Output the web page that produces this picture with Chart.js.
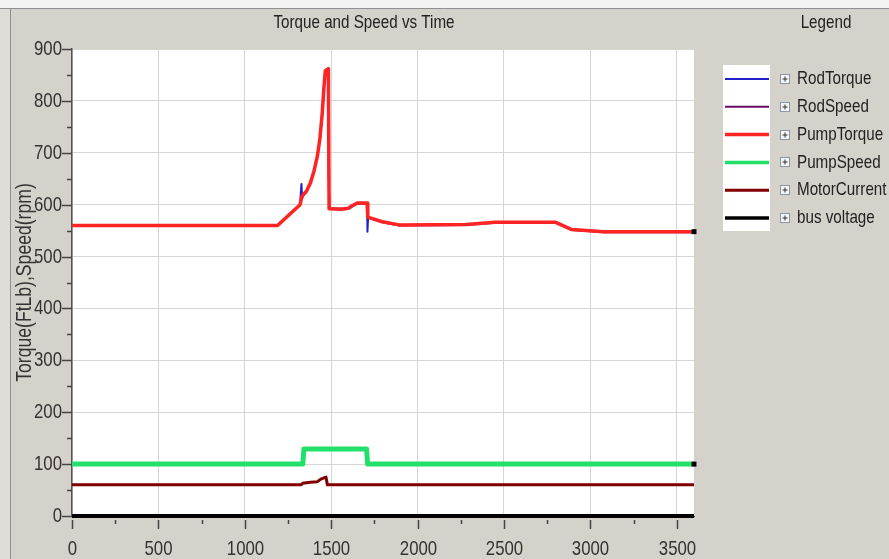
<!DOCTYPE html>
<html><head><meta charset="utf-8">
<script src="https://cdn.jsdelivr.net/npm/chart.js@4.4.1/dist/chart.umd.min.js"></script>
<style>html,body{margin:0;padding:0;background:#d5d2cb;overflow:hidden}#wrap{width:889px;height:559px;position:relative}</style>
</head><body><div id="wrap"><canvas id="c"></canvas></div>
<script>
const chartTitle = 'Torque and Speed vs Time';
const legendTitle = 'Legend';
const yAxisTitle = 'Torque(FtLb),Speed(rpm)';
const seriesNames = ['RodTorque', 'RodSpeed', 'PumpTorque', 'PumpSpeed', 'MotorCurrent', 'bus voltage'];
const xTickValues = [0, 500, 1000, 1500, 2000, 2500, 3000, 3500];
const yTickValues = [0, 100, 200, 300, 400, 500, 600, 700, 800, 900];

const pumpTorqueTime = [0, 1190, 1320, 1330, 1340, 1357, 1380, 1400, 1420, 1435, 1448, 1458, 1466, 1484, 1488, 1560, 1600, 1620, 1651, 1708, 1712, 1796, 1894, 2280, 2450, 2800, 2893, 3077, 3600];
const pumpTorque     = [560, 560, 600, 615, 620, 626, 642, 664, 693, 728, 775, 825, 858, 862, 592, 591, 593, 598, 603, 603, 576, 567, 561, 562, 566, 566, 552, 548, 548];

const rodTorqueTime = [0, 1190, 1320, 1328, 1332, 1340, 1357, 1380, 1400, 1420, 1435, 1448, 1458, 1466, 1484, 1486, 1490, 1560, 1600, 1620, 1651, 1708, 1710, 1714, 1796, 1894, 2280, 2450, 2800, 2893, 3077, 3600];
const rodTorque     = [560, 560, 600, 640, 612, 620, 626, 642, 664, 693, 728, 775, 825, 858, 862, 655, 592, 591, 593, 598, 603, 603, 548, 576, 567, 561, 562, 566, 566, 552, 548, 548];

const rodSpeedTime = [0, 1190, 1320, 1330, 1357, 1380, 1400, 1420, 1435, 1448, 1458, 1466, 1484, 1488, 1600, 1651, 1708, 1712, 1796, 1894, 2280, 2450, 2800, 2893, 3077, 3600];
const rodSpeed     = [561, 561, 601, 614, 625, 641, 663, 692, 727, 774, 824, 857, 861, 593, 592, 602, 602, 575, 566, 560, 561, 565, 565, 551, 547, 547];

const pumpSpeedTime = [0, 1336, 1342, 1705, 1711, 3600];
const pumpSpeed     = [100, 100, 129, 129, 100, 100];

const motorCurrentTime = [0, 1325, 1335, 1380, 1420, 1440, 1470, 1478, 3600];
const motorCurrent     = [60, 60, 63, 65, 66, 71, 75, 60, 60];

const busVoltageTime = [0, 3600];
const busVoltage     = [0, 0];

const colors = ['#2222c8', '#6a0a6a', '#ff2424', '#22e06a', '#800000', '#000000'];
const widths = [2, 2, 3.5, 5, 3, 4];
const FONT = "'Liberation Sans',Arial,sans-serif";
const SQ = 0.8;

function pts(t, v) { return t.map((x, i) => ({ x: x, y: v[i] })); }
const seriesData = [
  pts(rodTorqueTime, rodTorque),
  pts(rodSpeedTime, rodSpeed),
  pts(pumpTorqueTime, pumpTorque),
  pts(pumpSpeedTime, pumpSpeed),
  pts(motorCurrentTime, motorCurrent),
  pts(busVoltageTime, busVoltage)
];
const drawOrder = [3, 4, 2, 1, 1, 0];
const endMarker = [false, false, true, true, false, false];

const datasets = seriesNames.map((name, i) => ({
  label: name,
  data: seriesData[i],
  borderColor: colors[i],
  backgroundColor: colors[i],
  borderWidth: widths[i],
  order: drawOrder[i],
  tension: 0,
  fill: false,
  borderJoinStyle: 'round',
  borderCapStyle: 'butt',
  pointRadius: (ctx) => (endMarker[i] && ctx.dataIndex === seriesData[i].length - 1) ? 3.5 : 0,
  pointStyle: 'rect',
  pointBackgroundColor: '#000',
  pointBorderColor: '#000',
  pointBorderWidth: 0,
  clip: 6
}));

function txt(c, s, x, y, align, size, rot) {
  c.save();
  c.translate(x, y);
  if (rot) c.rotate(rot);
  c.scale(SQ, 1);
  c.font = size + 'px ' + FONT;
  c.textAlign = align; c.textBaseline = 'middle';
  c.fillText(s, 0, 0);
  c.restore();
}

const bgPlugin = {
  id: 'bg',
  beforeDraw(chart) {
    const c = chart.ctx, a = chart.chartArea;
    c.save();
    c.fillStyle = '#d5d2cb'; c.fillRect(0, 0, chart.width, chart.height);
    c.fillStyle = '#f3f3f3'; c.fillRect(0, 0, chart.width, 8);
    c.fillStyle = '#dedcd6'; c.fillRect(0, 8, 10, chart.height);
    c.strokeStyle = '#8f8f8f'; c.lineWidth = 1;
    c.beginPath(); c.moveTo(0, 8.5); c.lineTo(chart.width, 8.5); c.stroke();
    c.beginPath(); c.moveTo(10.5, 8.5); c.lineTo(10.5, chart.height); c.stroke();
    c.fillStyle = '#ffffff'; c.fillRect(a.left, a.top, a.right - a.left, a.bottom - a.top);
    c.fillStyle = '#222';
    txt(c, chartTitle, 364, 23, 'center', 19);
    txt(c, legendTitle, 826, 23, 'center', 19);
    c.restore();
  },
  afterDraw(chart) {
    const c = chart.ctx, a = chart.chartArea;
    const xs = chart.scales.x, ys = chart.scales.y;
    c.save();
    c.strokeStyle = '#444'; c.lineWidth = 1.5;
    c.fillStyle = '#333';
    yTickValues.forEach((v, i) => {
      const y = Math.round(ys.getPixelForValue(v)) + 0.5;
      c.beginPath(); c.moveTo(a.left - 10, y); c.lineTo(a.left, y); c.stroke();
      if (i < yTickValues.length - 1) {
        const ym = Math.round(ys.getPixelForValue((v + yTickValues[i + 1]) / 2)) + 0.5;
        c.beginPath(); c.moveTo(a.left - 5, ym); c.lineTo(a.left, ym); c.stroke();
      }
      txt(c, String(v), a.left - 10, y, 'right', 21);
    });
    xTickValues.forEach((v, i) => {
      const x = Math.round(xs.getPixelForValue(v)) + 0.5;
      c.beginPath(); c.moveTo(x, a.bottom + 4); c.lineTo(x, a.bottom + 13); c.stroke();
      if (i < xTickValues.length - 1) {
        const xm = Math.round(xs.getPixelForValue((v + xTickValues[i + 1]) / 2)) + 0.5;
        c.beginPath(); c.moveTo(xm, a.bottom + 4); c.lineTo(xm, a.bottom + 8); c.stroke();
      }
      txt(c, String(v), x, 549, 'center', 21);
    });
    txt(c, yAxisTitle, 25, (a.top + a.bottom) / 2, 'center', 22, -Math.PI / 2);
    const lx0 = 723, lx1 = 770, ly0 = 65, ly1 = 231;
    c.fillStyle = '#ffffff'; c.fillRect(lx0, ly0, lx1 - lx0, ly1 - ly0);
    chart.data.datasets.forEach((ds, i) => {
      const y = 79 + i * 27.8;
      c.strokeStyle = ds.borderColor; c.lineWidth = Math.min(ds.borderWidth, 3.5);
      c.beginPath(); c.moveTo(lx0 + 2, y); c.lineTo(lx1 - 1, y); c.stroke();
      const bx = 780.5, by = Math.round(y - 5) + 0.5;
      c.fillStyle = '#f4f4f4'; c.fillRect(bx, by, 9, 9);
      c.strokeStyle = '#8a96a6'; c.lineWidth = 1; c.strokeRect(bx, by, 9, 9);
      c.strokeStyle = '#333';
      c.beginPath(); c.moveTo(bx + 2, by + 4.5); c.lineTo(bx + 7, by + 4.5); c.moveTo(bx + 4.5, by + 2); c.lineTo(bx + 4.5, by + 7); c.stroke();
      c.fillStyle = '#222';
      txt(c, ds.label, 797, y, 'left', 19);
    });
    c.restore();
  }
};

new Chart(document.getElementById('c'), {
  type: 'line',
  data: { datasets: datasets },
  plugins: [bgPlugin],
  options: {
    responsive: true,
    maintainAspectRatio: false,
    animation: false,
    layout: { padding: { left: 0, top: 49, right: 195, bottom: 0 } },
    plugins: { legend: { display: false }, title: { display: false }, tooltip: { enabled: false } },
    scales: {
      x: {
        type: 'linear', min: 0, max: 3600,
        afterFit: (s) => { s.height = 43; },
        afterBuildTicks: (s) => { s.ticks = xTickValues.map(v => ({ value: v })); },
        grid: { color: '#d6d6d6', lineWidth: 1, drawTicks: false },
        border: { display: true, color: '#555', width: 1 },
        ticks: { display: false }
      },
      y: {
        type: 'linear', min: 0, max: 900,
        afterFit: (s) => { s.width = 72; },
        afterBuildTicks: (s) => { s.ticks = yTickValues.map(v => ({ value: v })); },
        grid: { color: '#d6d6d6', lineWidth: 1, drawTicks: false },
        border: { display: true, color: '#555', width: 1.5 },
        ticks: { display: false }
      }
    }
  }
});
</script></body></html>
